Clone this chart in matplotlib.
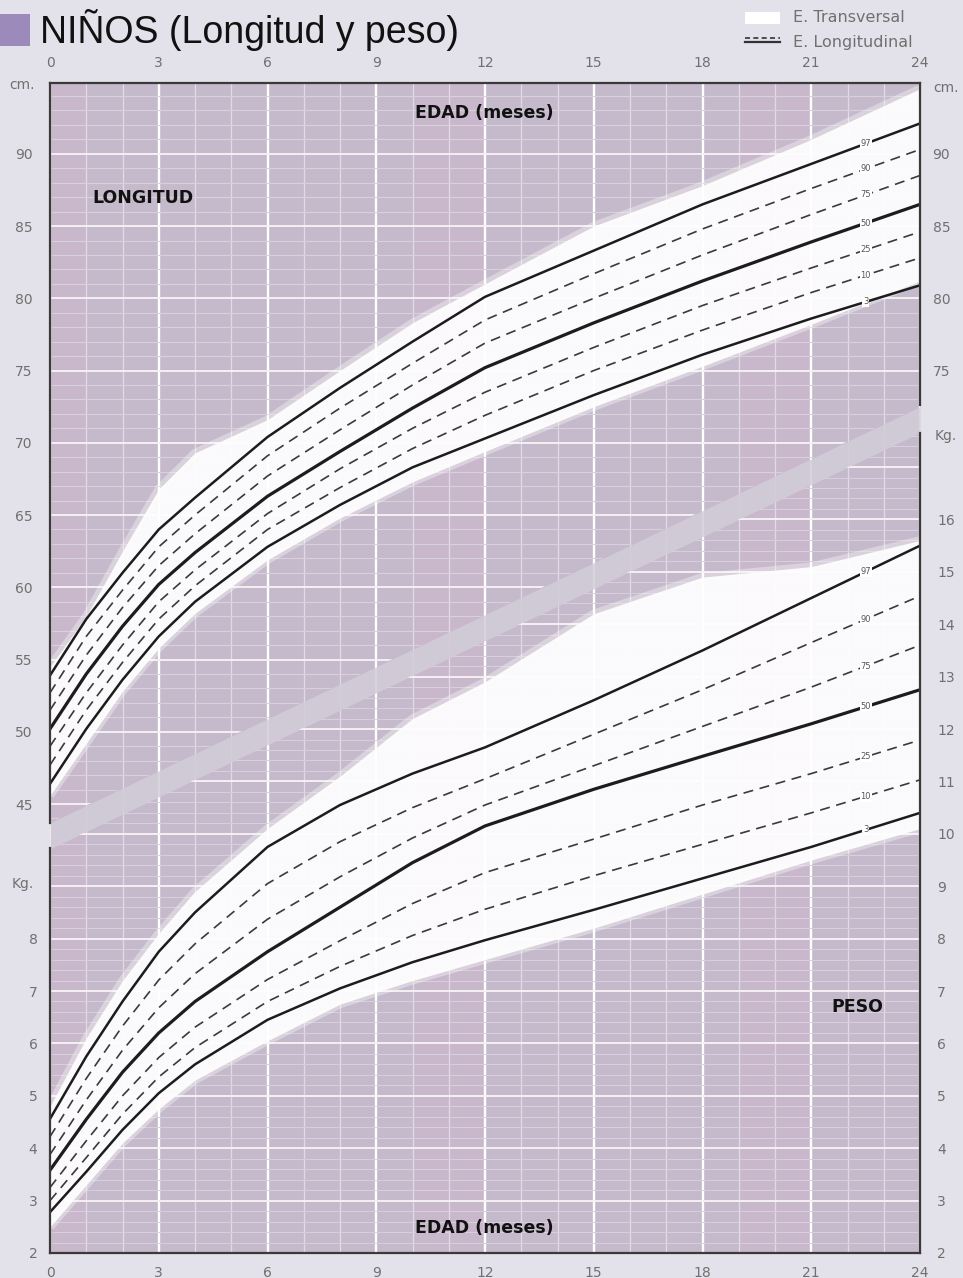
import matplotlib.pyplot as plt
import numpy as np
from matplotlib.patches import Polygon, Rectangle
from matplotlib.lines import Line2D

# ---------------- datos ----------------
meses = [0, 1, 2, 3, 4, 6, 8, 10, 12, 15, 18, 21, 24]

# Longitud (cm) - estudio longitudinal
long_p97 = [53.9, 57.8, 61.0, 64.0, 66.2, 70.4, 73.8, 77.0, 80.1, 83.3, 86.5, 89.3, 92.1]
long_p90 = [52.7, 56.6, 59.8, 62.8, 65.0, 69.1, 72.4, 75.5, 78.5, 81.7, 84.8, 87.6, 90.3]
long_p75 = [51.5, 55.3, 58.6, 61.5, 63.7, 67.7, 70.9, 74.0, 76.9, 80.0, 83.0, 85.8, 88.5]
long_p50 = [50.2, 54.0, 57.3, 60.2, 62.4, 66.3, 69.4, 72.4, 75.2, 78.3, 81.2, 83.9, 86.5]
long_p25 = [49.0, 52.7, 56.0, 59.0, 61.2, 65.1, 68.2, 71.0, 73.5, 76.6, 79.5, 82.1, 84.6]
long_p10 = [47.7, 51.5, 54.8, 57.8, 60.1, 64.0, 66.9, 69.6, 71.9, 75.0, 77.8, 80.4, 82.8]
long_p3 = [46.4, 50.2, 53.6, 56.6, 59.0, 62.8, 65.7, 68.3, 70.3, 73.3, 76.1, 78.6, 80.9]

# Peso (kg) - estudio longitudinal
peso_p97 = [4.56, 5.75, 6.80, 7.75, 8.50, 9.75, 10.55, 11.15, 11.65, 12.55, 13.50, 14.50, 15.50]
peso_p90 = [4.22, 5.33, 6.33, 7.21, 7.90, 9.05, 9.85, 10.50, 11.05, 11.90, 12.75, 13.65, 14.54]
peso_p75 = [3.88, 4.92, 5.87, 6.68, 7.33, 8.37, 9.18, 9.92, 10.55, 11.30, 12.05, 12.80, 13.60]
peso_p50 = [3.58, 4.55, 5.45, 6.20, 6.80, 7.75, 8.60, 9.45, 10.15, 10.85, 11.48, 12.10, 12.75]
peso_p25 = [3.25, 4.14, 5.00, 5.73, 6.31, 7.22, 7.96, 8.67, 9.26, 9.90, 10.55, 11.15, 11.79]
peso_p10 = [3.00, 3.82, 4.65, 5.36, 5.92, 6.80, 7.47, 8.06, 8.56, 9.20, 9.80, 10.40, 11.03]
peso_p3 = [2.78, 3.55, 4.35, 5.05, 5.60, 6.45, 7.05, 7.55, 7.97, 8.55, 9.15, 9.75, 10.40]

# Estudio transversal (zona blanca)
trans_long_sup = [54.5, 58.0, 62.5, 66.8, 69.3, 71.6, 75.0, 78.3, 81.0, 85.0, 87.8, 91.0, 94.5]
trans_long_inf = [45.6, 49.2, 52.8, 55.8, 58.2, 61.9, 64.8, 67.3, 69.4, 72.5, 75.3, 78.2, 81.2]
trans_peso_sup = [4.8, 6.1, 7.2, 8.1, 8.9, 10.1, 11.1, 12.2, 12.9, 14.2, 14.9, 15.1, 15.6]
trans_peso_inf = [2.5, 3.3, 4.1, 4.75, 5.3, 6.05, 6.75, 7.2, 7.6, 8.2, 8.85, 9.5, 10.1]

percentiles = ['97', '90', '75', '50', '25', '10', '3']
curvas_long = [long_p97, long_p90, long_p75, long_p50, long_p25, long_p10, long_p3]
curvas_peso = [peso_p97, peso_p90, peso_p75, peso_p50, peso_p25, peso_p10, peso_p3]

# banda diagonal que separa longitud y peso (en cm)
banda_ini, banda_fin, banda_semi = 42.8, 71.6, 0.9

# ---------------- figura ----------------
W, H = 963, 1278
fondo = '#e3e1e9'
gris_txt = '#707070'
fig = plt.figure(figsize=(W / 100, H / 100), dpi=100, facecolor=fondo)

x0, x1, y_top, y_bot = 50, 920, 83, 1253
ax = fig.add_axes([x0 / W, 1 - y_bot / H, (x1 - x0) / W, (y_bot - y_top) / H])
ax.set_xlim(0, 24)
ax.set_ylim(13.93, 94.9)
ax.set_facecolor('#c5bacb')
axw = ax.twinx()
axw.set_ylim(2, 24.33)

zona_sup = Polygon([(0, banda_ini + banda_semi), (24, banda_fin + banda_semi), (24, 120), (0, 120)],
                   closed=True, transform=ax.transData)
zona_inf = Polygon([(0, banda_ini - banda_semi), (24, banda_fin - banda_semi), (24, -20), (0, -20)],
                   closed=True, transform=ax.transData)

# franjas rosadas del papel
for m in (0, 10, 11, 19, 20):
    ax.axvspan(m, m + 1, color='#d3b5cc', alpha=0.35, lw=0, zorder=0.5)

# cuadricula
for m in range(25):
    mayor = m % 3 == 0
    ax.axvline(m, color='white' if mayor else '#e2dae4', lw=1.7 if mayor else 0.9, zorder=1)
for L in range(14, 96):
    mayor = L % 5 == 0
    ln = ax.axhline(L, color='#f4f0f4' if mayor else '#d8d0dc', lw=1.4 if mayor else 0.8, zorder=1)
    ln.set_clip_path(zona_sup)
for i, w in enumerate(np.arange(2, 24.4, 0.2)):
    mayor = i % 5 == 0
    ln = axw.axhline(w, color='#f4f0f4' if mayor else '#d8d0dc', lw=1.4 if mayor else 0.7, zorder=1)
    ln.set_clip_path(zona_inf)

ax.fill_between([0, 24], [banda_ini - banda_semi, banda_fin - banda_semi],
                [banda_ini + banda_semi, banda_fin + banda_semi], color='#d2cdd8', alpha=0.85,
                lw=0, zorder=1.5)

# zonas blancas (estudio transversal)
ax.fill_between(meses, trans_long_inf, trans_long_sup, color='white', alpha=0.93, lw=0, zorder=2)
axw.fill_between(meses, trans_peso_inf, trans_peso_sup, color='white', alpha=0.93, lw=0, zorder=2)
for a, s in [(ax, trans_long_sup), (ax, trans_long_inf), (axw, trans_peso_sup), (axw, trans_peso_inf)]:
    a.plot(meses, s, color='white', lw=6, alpha=0.35, zorder=2, solid_capstyle='butt')

# curvas
for a, curvas in [(ax, curvas_long), (axw, curvas_peso)]:
    for p, c in zip(percentiles, curvas):
        if p in ('97', '50', '3'):
            a.plot(meses, c, color='#1c1c1c', lw=2.3 if p == '50' else 1.8, zorder=4)
        else:
            a.plot(meses, c, color='#3a3a3a', lw=1.2, ls=(0, (6, 4)), zorder=4)
        a.text(22.5, np.interp(22.5, meses, c), p, fontsize=6, color='#555555',
               ha='center', va='center', zorder=5,
               bbox=dict(fc='white', ec='none', pad=0.5))

# ejes y etiquetas
for a in (ax, axw):
    for s in a.spines.values():
        s.set_visible(False)
ax.set_xticks(range(0, 25, 3))
ax.tick_params(axis='x', top=False, bottom=False, labeltop=True, labelbottom=True,
               labelsize=10, labelcolor=gris_txt, pad=6)
ax.set_yticks(range(45, 91, 5))
ax.tick_params(axis='y', left=False, labelsize=10, labelcolor=gris_txt, pad=9)
axw.set_yticks(range(2, 17))
axw.tick_params(axis='y', right=False, labelsize=10, labelcolor=gris_txt, pad=9)

sec_l = axw.secondary_yaxis('left')
sec_l.set_yticks(range(2, 9))
sec_r = ax.secondary_yaxis('right')
sec_r.set_yticks([75, 80, 85, 90])
for s in (sec_l, sec_r):
    for sp in s.spines.values():
        sp.set_visible(False)
    s.tick_params(length=0, labelsize=10, labelcolor=gris_txt, pad=9)

# marco con cortes
marco = dict(color='#3a3a3a', lw=1.6, transform=axw.transAxes, clip_on=False, zorder=6)
axw.plot([0, 1], [1, 1], **marco)
axw.plot([0, 1], [0, 0], **marco)
axw.plot([0, 0], [0, 0.346], **marco)
axw.plot([0, 0], [0.3675, 1], **marco)
axw.plot([1, 1], [0, 0.701], **marco)
axw.plot([1, 1], [0.725, 1], **marco)

fig.text(22 / W, 1 - 85 / H, 'cm.', fontsize=10, color=gris_txt, ha='center', va='center')
fig.text(946 / W, 1 - 88 / H, 'cm.', fontsize=10, color=gris_txt, ha='center', va='center')
fig.text(23 / W, 1 - 884 / H, 'Kg.', fontsize=10, color=gris_txt, ha='center', va='center')
fig.text(946 / W, 1 - 436 / H, 'Kg.', fontsize=10, color=gris_txt, ha='center', va='center')

negrita = dict(fontsize=12.5, weight='bold', color='#111111', ha='center', va='center')
fig.text(484 / W, 1 - 113 / H, 'EDAD (meses)', **negrita)
fig.text(484 / W, 1 - 1228 / H, 'EDAD (meses)', **negrita)
fig.text(143 / W, 1 - 198 / H, 'LONGITUD', **negrita)
fig.text(857 / W, 1 - 1007 / H, 'PESO', **negrita)

# titulo
fig.patches.append(Rectangle((0, 1 - 46 / H), 30 / W, 32 / H, transform=fig.transFigure,
                             fc='#9c8abb', ec='none'))
fig.text(40 / W, 1 - 30 / H, 'NIÑOS (Longitud y peso)', fontsize=27, family='Liberation Sans',
         color='#111111', ha='left', va='center')

# leyenda
fig.patches.append(Rectangle((745 / W, 1 - 24 / H), 35 / W, 12 / H, transform=fig.transFigure,
                             fc='white', ec='none'))
fig.add_artist(Line2D([745 / W, 780 / W], [1 - 42 / H] * 2, color='#333333', lw=1.6))
fig.add_artist(Line2D([745 / W, 780 / W], [1 - 38 / H] * 2, color='#333333', lw=1.2, ls=(0, (3, 2))))
fig.text(793 / W, 1 - 17 / H, 'E. Transversal', fontsize=11.5, color=gris_txt, va='center')
fig.text(793 / W, 1 - 42 / H, 'E. Longitudinal', fontsize=11.5, color=gris_txt, va='center')

fig.savefig('out.png', dpi=100, facecolor=fondo)
